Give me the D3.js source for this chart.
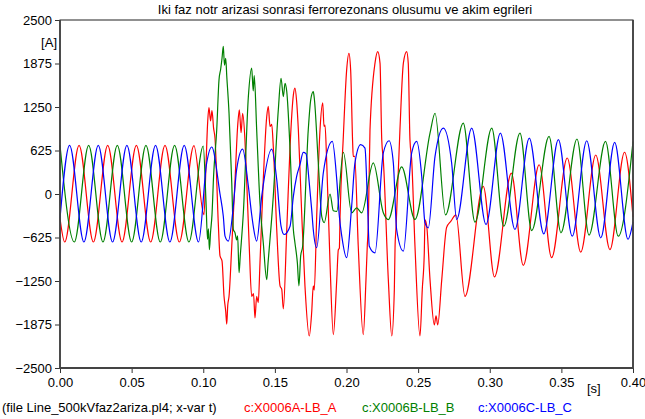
<!DOCTYPE html>
<html>
<head>
<meta charset="utf-8">
<script src="https://cdn.jsdelivr.net/npm/d3@7"></script>
<style>
  body { margin: 0; background: #fff; }
  svg text { font-family: "Liberation Sans", Arial, sans-serif; }
</style>
</head>
<body>
<div id="chart"></div>
<script>
// ticks
const yTicks = [-2500, -1875, -1250, -625, 0, 625, 1250, 1875, 2500];
const xTicks = [0, 0.05, 0.1, 0.15, 0.2, 0.25, 0.3, 0.35, 0.4];

// [t (s), current (A)] at extrema / kinks
const phaseA = [
  [0.0000, -350], [0.0033, -690], [0.0133, 700], [0.0233, -690], [0.0333, 700],
  [0.0433, -690], [0.0533, 700], [0.0633, -690], [0.0733, 700], [0.0833, -690],
  [0.0935, 695], [0.1005, -300], [0.1019, 400], [0.1030, 1000], [0.1040, 1240],
  [0.1051, 1050], [0.1061, 1200], [0.1072, 950], [0.1082, 800], [0.1105, -420],
  [0.1117, -890], [0.1131, -960], [0.1145, -1470], [0.1157, -1690], [0.1164, -1870],
  [0.1171, -1600], [0.1180, -1470], [0.1199, -750], [0.1222, 200], [0.1240, 970],
  [0.1252, 1210], [0.1264, 880], [0.1275, 1160], [0.1291, 780], [0.1303, 200],
  [0.1321, -750], [0.1338, -1470], [0.1351, -1430], [0.1361, -1780], [0.1373, -1470],
  [0.1384, -1560], [0.1396, -990], [0.1419, 200], [0.1443, 1110], [0.1454, 1260],
  [0.1466, 970], [0.1478, 1000], [0.1489, 680], [0.1513, -510], [0.1536, -1320],
  [0.1548, -1370], [0.1559, -1650], [0.1583, -510], [0.1606, 680], [0.1629, 1420],
  [0.1640, 1520], [0.1652, 1330], [0.1664, 920], [0.1687, -270], [0.1710, -1320],
  [0.1740, -2040], [0.1757, -1700], [0.1768, -1320], [0.1775, -1380], [0.1792, -320],
  [0.1815, 920], [0.1834, 1310], [0.1843, 970], [0.1850, 990], [0.1862, 450],
  [0.1885, -990], [0.1908, -2020], [0.1932, -1230], [0.1943, -800], [0.1950, -780],
  [0.1955, -320], [0.1978, 830], [0.2001, 1780], [0.2017, 2020], [0.2029, 1780],
  [0.2043, 730], [0.2047, 540], [0.2057, 540], [0.2082, -750], [0.2117, -2020],
  [0.2136, -1230], [0.2145, -750], [0.2152, -460], [0.2164, 920], [0.2199, 1880],
  [0.2218, 2045], [0.2234, 1880], [0.2246, 780], [0.2257, 490], [0.2292, -1230],
  [0.2316, -2040], [0.2334, -1370], [0.2339, -750], [0.2346, -470], [0.2373, 920],
  [0.2397, 1880], [0.2420, 2045], [0.2431, 1880], [0.2443, 780], [0.2455, 490],
  [0.2478, -750], [0.2513, -2040], [0.2529, -1370], [0.2543, -845], [0.2548, -370],
  [0.2560, -460], [0.2583, -1230], [0.2613, -1880], [0.2625, -1750], [0.2637, -1880],
  [0.2665, -1230], [0.2699, -480], [0.2729, -390], [0.2764, -300], [0.2827, -1470],
  [0.2955, 110], [0.3033, -1190], [0.3151, 300], [0.3234, -1025], [0.3345, 420],
  [0.3432, -915], [0.3541, 517], [0.3635, -835], [0.3740, 560], [0.3839, -800],
  [0.3941, 600], [0.4000, -330]
];

const phaseB = [
  [0.0000, 700], [0.0100, -690], [0.0200, 700], [0.0300, -690], [0.0400, 700],
  [0.0500, -690], [0.0600, 700], [0.0700, -690], [0.0800, 700], [0.0900, -690],
  [0.1000, 690], [0.1019, -100], [0.1030, -650], [0.1036, -500], [0.1043, -800],
  [0.1051, -550], [0.1061, -300], [0.1072, 250], [0.1094, 920], [0.1110, 1640],
  [0.1122, 1800], [0.1131, 1950], [0.1140, 2120], [0.1148, 1850], [0.1157, 1950],
  [0.1164, 1700], [0.1180, 1160], [0.1199, 160], [0.1210, -510], [0.1222, -560],
  [0.1233, -660], [0.1240, -600], [0.1250, -1130], [0.1258, -900], [0.1280, -270],
  [0.1315, 1400], [0.1338, 1810], [0.1349, 1480], [0.1356, 1700], [0.1373, 920],
  [0.1396, -130], [0.1419, -700], [0.1443, -1230], [0.1452, -1000], [0.1489, -30],
  [0.1524, 1210], [0.1543, 1660], [0.1559, 1400], [0.1571, 1590], [0.1583, 1470],
  [0.1606, 640], [0.1629, -510], [0.1640, -700], [0.1657, -990], [0.1668, -1320],
  [0.1680, -890], [0.1694, -750], [0.1733, 920], [0.1750, 1350], [0.1768, 1470],
  [0.1775, 1380], [0.1803, 450], [0.1827, -320], [0.1845, -410], [0.1885, 0],
  [0.1908, -240], [0.1932, -250], [0.1978, 600], [0.2036, -270], [0.2071, -200],
  [0.2106, -270], [0.2187, 446], [0.2257, -270], [0.2292, -367], [0.2385, 390],
  [0.2478, -367], [0.2583, 875], [0.2618, 1160], [0.2691, -300], [0.2815, 1019],
  [0.2897, -405], [0.3014, 947], [0.3098, -463], [0.3211, 875], [0.3293, -525],
  [0.3414, 827], [0.3497, -558], [0.3609, 790], [0.3693, -590], [0.3808, 755],
  [0.3897, -606], [0.4000, 755]
];

const phaseC = [
  [0.0000, -350], [0.0067, 700], [0.0167, -690], [0.0267, 700], [0.0367, -690],
  [0.0467, 700], [0.0567, -690], [0.0667, 700], [0.0767, -690], [0.0867, 700],
  [0.0967, -690], [0.1024, 446], [0.1059, 675], [0.1117, 0], [0.1140, -320],
  [0.1152, -605], [0.1175, -677], [0.1210, -176], [0.1233, 350], [0.1275, 646],
  [0.1315, 110], [0.1338, -295], [0.1349, -460], [0.1373, -677], [0.1408, -33],
  [0.1478, 646], [0.1513, 206], [0.1543, -463], [0.1564, -582], [0.1606, -463],
  [0.1629, -33], [0.1652, 254], [0.1675, 421], [0.1698, 598], [0.1717, 580],
  [0.1740, 160], [0.1757, -224], [0.1768, -510], [0.1792, -772], [0.1838, 302],
  [0.1901, 755], [0.1932, 206], [0.1950, -320], [0.1967, -605], [0.2001, -916],
  [0.2036, -176], [0.2059, 446], [0.2099, 708], [0.2129, 660], [0.2145, -33],
  [0.2159, -750], [0.2199, -845], [0.2257, 590], [0.2297, 765], [0.2327, 446],
  [0.2350, -510], [0.2397, -821], [0.2455, 590], [0.2490, 755], [0.2525, 254],
  [0.2548, -415], [0.2571, -486], [0.2618, 540], [0.2676, 947], [0.2734, 446],
  [0.2769, -367], [0.2874, 947], [0.2974, -439], [0.3074, 875], [0.3176, -510],
  [0.3276, 804], [0.3377, -572], [0.3479, 780], [0.3576, -606], [0.3677, 765],
  [0.3775, -630], [0.3872, 741], [0.3965, -650], [0.4000, -400]
];

const series = [
  { name: "c:X0006A-LB_A", color: "#ff0000", data: phaseA },
  { name: "c:X0006B-LB_B", color: "#008000", data: phaseB },
  { name: "c:X0006C-LB_C", color: "#0000ff", data: phaseC }
];

const width = 645, height = 419;
const margin = { top: 20, right: 12, bottom: 51, left: 60 };

const svg = d3.select("#chart").append("svg")
  .attr("width", width)
  .attr("height", height);

svg.append("rect").attr("width", width).attr("height", height).attr("fill", "#fff");

const x = d3.scaleLinear().domain([0, 0.4]).range([margin.left, width - margin.right]);
const y = d3.scaleLinear().domain([-2500, 2500]).range([height - margin.bottom, margin.top]);

// title
svg.append("text")
  .attr("x", 345).attr("y", 14)
  .attr("text-anchor", "middle")
  .attr("font-size", 13)
  .text("Iki faz notr arizasi sonrasi ferrorezonans olusumu ve akim egrileri");

// axes
const yAxis = svg.append("g")
  .attr("transform", `translate(${margin.left},0)`)
  .call(d3.axisLeft(y).tickValues(yTicks).tickSize(5).tickSizeOuter(0).tickPadding(3).tickFormat(d3.format("d")));
yAxis.select(".domain").remove();
yAxis.selectAll("text").attr("font-size", 13).attr("fill", "#000");
yAxis.selectAll("line").attr("stroke", "#333");

const xAxis = svg.append("g")
  .attr("transform", `translate(0,${y(-2500)})`)
  .call(d3.axisBottom(x).tickValues(xTicks).tickSize(5).tickSizeOuter(0).tickPadding(5).tickFormat(d3.format(".2f")));
xAxis.select(".domain").remove();
xAxis.selectAll("text").attr("font-size", 13).attr("fill", "#000");
xAxis.selectAll("line").attr("stroke", "#333");

// units
svg.append("text").attr("x", 57).attr("y", 47).attr("text-anchor", "end")
  .attr("font-size", 13).text("[A]");
svg.append("text").attr("x", 587).attr("y", 393)
  .attr("font-size", 13).text("[s]");

// curves
const line = d3.line()
  .x(d => x(d[0]))
  .y(d => y(d[1]))
  .curve(d3.curveMonotoneX);

const plot = svg.append("g");
series.forEach(s => {
  plot.append("path")
    .datum(s.data)
    .attr("fill", "none")
    .attr("stroke", s.color)
    .attr("stroke-width", 1.2)
    .attr("stroke-linejoin", "round")
    .attr("d", line);
});

// frame
svg.append("rect")
  .attr("x", x(0)).attr("y", y(2500))
  .attr("width", x(0.4) - x(0)).attr("height", y(-2500) - y(2500))
  .attr("fill", "none").attr("stroke", "#222").attr("stroke-width", 1);
svg.append("path")
  .attr("d", `M${x(0)},${y(2500)}V${y(-2500)}H${x(0.4)}V${y(2500)}`)
  .attr("fill", "none").attr("stroke", "#444").attr("stroke-width", 1.8);

// footer
svg.append("text").attr("x", 2).attr("y", 412).attr("font-size", 13)
  .text("(file Line_500kVfaz2ariza.pl4; x-var t)");
const legendX = [244, 362, 478];
series.forEach((s, i) => {
  svg.append("text").attr("x", legendX[i]).attr("y", 412)
    .attr("font-size", 13).attr("fill", s.color).text(s.name);
});
</script>
</body>
</html>
